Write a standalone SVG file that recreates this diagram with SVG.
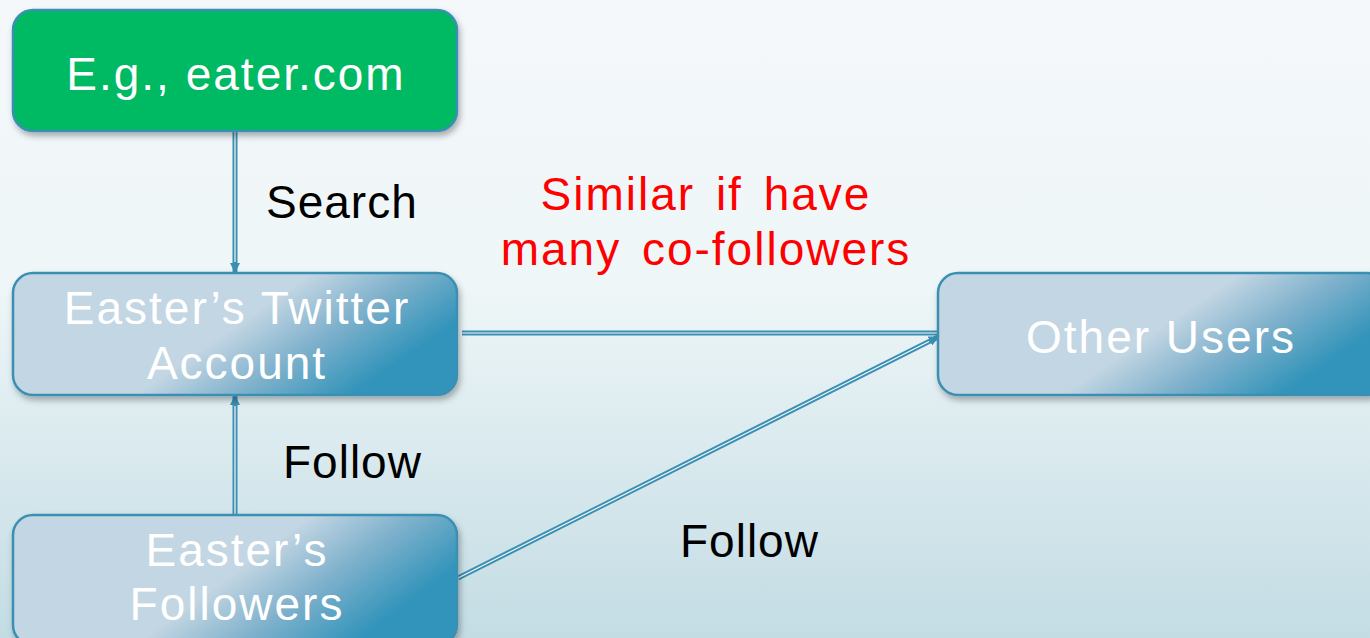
<svg xmlns="http://www.w3.org/2000/svg" width="1370" height="638" viewBox="0 0 1370 638">
<defs>
<linearGradient id="bg" x1="0" y1="0" x2="0" y2="1">
<stop offset="0" stop-color="#f5f8fb"/>
<stop offset="0.45" stop-color="#eef6f7"/>
<stop offset="1" stop-color="#c3dce4"/>
</linearGradient>
<linearGradient id="box" x1="0" y1="0" x2="1" y2="0.4">
<stop offset="0" stop-color="#c3d6e3"/>
<stop offset="0.58" stop-color="#c3d6e3"/>
<stop offset="0.78" stop-color="#7fb1cc"/>
<stop offset="1" stop-color="#3294ba"/>
</linearGradient>
<filter id="sh" x="-10%" y="-10%" width="120%" height="130%">
<feDropShadow dx="2" dy="4" stdDeviation="3" flood-color="#000" flood-opacity="0.3"/>
</filter>
<marker id="ah" markerWidth="10" markerHeight="10" refX="9" refY="5" orient="auto" markerUnits="userSpaceOnUse" viewBox="0 0 10 10">
<path d="M0,0 L10,5 L0,10 z" fill="#3a8fb2"/>
</marker>
</defs>
<style>
.node{stroke:#3a8fb2;stroke-width:2.5;filter:url(#sh)}
.blue{fill:url(#box)}
.green{fill:#00b964}
.nt{font-family:"Liberation Sans",Arial,sans-serif;font-size:46px;fill:#ffffff;text-anchor:middle;letter-spacing:2px}
.lbl{font-family:"Liberation Sans",Arial,sans-serif;font-size:46px;fill:#000000;letter-spacing:1px}
.red{fill:#ff0000;text-anchor:middle;letter-spacing:2px;word-spacing:6px}
.c1{stroke:#3a8fb2;stroke-width:5;fill:none}
.c2{stroke:#f4f8fa;stroke-width:1.2;fill:none}
</style>
<rect x="0" y="0" width="1370" height="638" fill="url(#bg)"/>
<g id="connectors">
<line class="c1" x1="235" y1="131" x2="235" y2="272" marker-end="url(#ah)"/>
<line class="c2" x1="235" y1="131" x2="235" y2="262"/>
<line class="c1" x1="235" y1="515" x2="235" y2="396" marker-end="url(#ah)"/>
<line class="c2" x1="235" y1="515" x2="235" y2="406"/>
<line class="c1" x1="462" y1="333" x2="938" y2="333"/>
<line class="c2" x1="462" y1="333" x2="938" y2="333"/>
<line class="c1" x1="458" y1="578" x2="938" y2="337" marker-end="url(#ah)"/>
<line class="c2" x1="458" y1="578" x2="929" y2="341.5"/>
</g>
<g id="n-eater">
<rect class="node green" x="13" y="10" width="444" height="121" rx="20"/>
<text class="nt" x="236" y="90">E.g., eater.com</text>
</g>
<g id="n-twitter">
<rect class="node blue" x="13" y="273" width="444" height="122" rx="20"/>
<text class="nt" x="237" y="324">Easter’s Twitter</text>
<text class="nt" x="237" y="379">Account</text>
</g>
<g id="n-other">
<rect class="node blue" x="938" y="273" width="450" height="122" rx="20"/>
<text class="nt" x="1161" y="353">Other Users</text>
</g>
<g id="n-followers">
<rect class="node blue" x="13" y="515" width="444" height="130" rx="20"/>
<text class="nt" x="237" y="566">Easter’s</text>
<text class="nt" x="237" y="620">Followers</text>
</g>
<g id="labels">
<text class="lbl" x="266" y="218">Search</text>
<text class="lbl red" x="706" y="210">Similar if have</text>
<text class="lbl red" x="706" y="265">many co-followers</text>
<text class="lbl" x="283" y="478">Follow</text>
<text class="lbl" x="680" y="557">Follow</text>
</g>
</svg>
